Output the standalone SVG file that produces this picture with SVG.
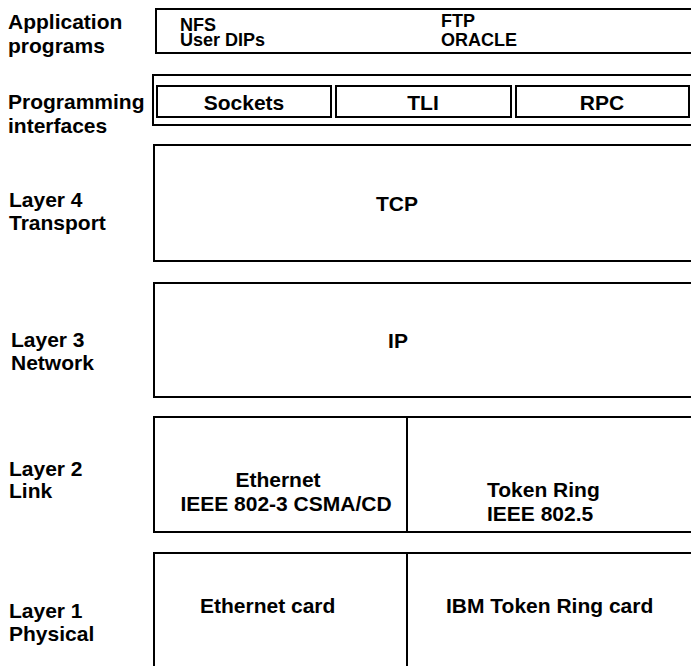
<svg xmlns="http://www.w3.org/2000/svg" width="691" height="666" viewBox="0 0 691 666">
<style>
text{font-family:"Liberation Sans",Arial,sans-serif;font-weight:bold;font-size:21px;fill:#000}
.sm{font-size:18px}
.box{fill:none;stroke:#000;stroke-width:2}
.c{text-anchor:middle}
</style>
<rect width="691" height="666" fill="#fff"/>
<g id="labels">
<text x="8" y="29">Application</text>
<text x="8" y="53">programs</text>
<text x="8" y="109">Programming</text>
<text x="8" y="133">interfaces</text>
<text x="9" y="207">Layer 4</text>
<text x="9" y="230">Transport</text>
<text x="11" y="347">Layer 3</text>
<text x="11" y="370">Network</text>
<text x="9" y="476">Layer 2</text>
<text x="9" y="498">Link</text>
<text x="9" y="618">Layer 1</text>
<text x="9" y="641">Physical</text>
</g>
<g id="app">
<rect class="box" x="156" y="9" width="560" height="44"/>
<text class="sm" x="180" y="31">NFS</text>
<text class="sm" x="180" y="46">User DIPs</text>
<text class="sm" x="441" y="27">FTP</text>
<text class="sm" x="441" y="46">ORACLE</text>
</g>
<g id="prog">
<rect class="box" x="153" y="75" width="560" height="50"/>
<g id="sockets"><rect class="box" x="157" y="86" width="174" height="31"/><text class="c" x="244" y="110">Sockets</text></g>
<g id="tli"><rect class="box" x="336" y="86" width="175" height="31"/><text class="c" x="423" y="110">TLI</text></g>
<g id="rpc"><rect class="box" x="516" y="86" width="173" height="31"/><text class="c" x="602" y="110">RPC</text></g>
</g>
<g id="tcp">
<rect class="box" x="154" y="145" width="560" height="116"/>
<text class="c" x="397" y="211">TCP</text>
</g>
<g id="ip">
<rect class="box" x="154" y="283" width="560" height="114"/>
<text class="c" x="398" y="348">IP</text>
</g>
<g id="link">
<rect class="box" x="154" y="417" width="560" height="115"/>
<line class="box" x1="407" y1="417" x2="407" y2="532"/>
<g id="ethernet"><text class="c" x="278" y="487">Ethernet</text><text class="c" x="286" y="511">IEEE 802-3 CSMA/CD</text></g>
<g id="tokenring"><text x="487" y="497">Token Ring</text><text x="487" y="521">IEEE 802.5</text></g>
</g>
<g id="physical">
<rect class="box" x="154" y="553" width="560" height="130"/>
<line class="box" x1="407" y1="553" x2="407" y2="666"/>
<text x="200" y="613">Ethernet card</text>
<text x="446" y="613">IBM Token Ring card</text>
</g>
</svg>
